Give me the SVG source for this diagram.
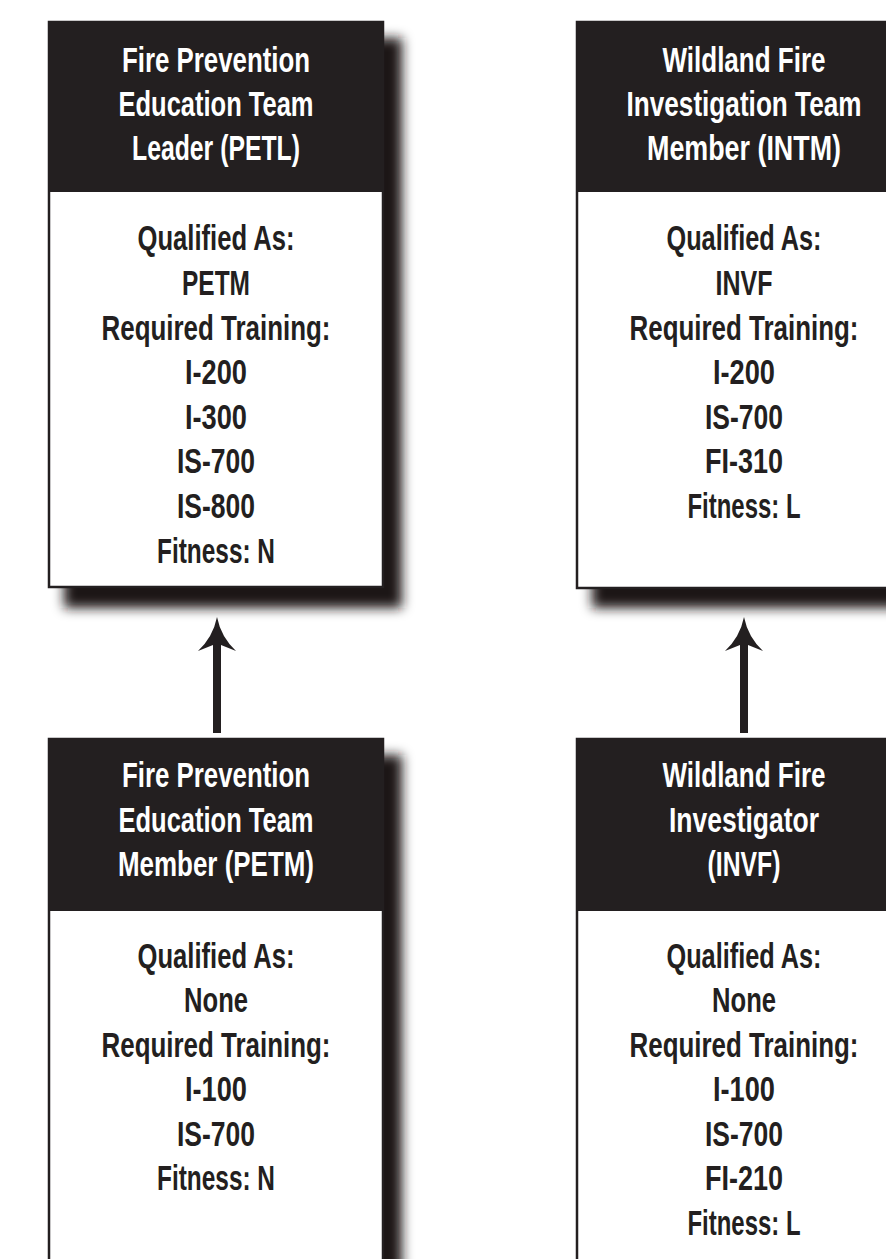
<svg xmlns="http://www.w3.org/2000/svg" width="886" height="1259" viewBox="0 0 886 1259">
<defs>
<filter id="sh" x="-20%" y="-20%" width="140%" height="140%">
<feGaussianBlur stdDeviation="6"/>
</filter>
<style>
.body{fill:#ffffff;stroke:#231f20;stroke-width:2.5}
.head{fill:#231f20}
.shadow{fill:#1a1718;filter:url(#sh)}
text{font-family:"Liberation Sans",Arial,sans-serif;font-weight:bold;font-size:35px;text-anchor:middle}
.ht{fill:#ffffff}
.bt{fill:#231f20}
.arrow{fill:#231f20}
</style>
</defs>
<rect width="886" height="1259" fill="#ffffff"/>

<g id="node-petl">
<rect class="shadow" x="64" y="38" width="338" height="570"/>
<rect class="body" x="49" y="22" width="334" height="565"/>
<rect class="head" x="48" y="21" width="336" height="171"/>
<text class="ht" x="216" y="72" textLength="188" lengthAdjust="spacingAndGlyphs">Fire Prevention</text>
<text class="ht" x="216" y="116" textLength="195" lengthAdjust="spacingAndGlyphs">Education Team</text>
<text class="ht" x="216" y="160" textLength="168" lengthAdjust="spacingAndGlyphs">Leader (PETL)</text>
<text class="bt" x="216" y="250" textLength="157" lengthAdjust="spacingAndGlyphs">Qualified As:</text>
<text class="bt" x="216" y="295" textLength="68" lengthAdjust="spacingAndGlyphs">PETM</text>
<text class="bt" x="216" y="340" textLength="229" lengthAdjust="spacingAndGlyphs">Required Training:</text>
<text class="bt" x="216" y="384" textLength="62" lengthAdjust="spacingAndGlyphs">I-200</text>
<text class="bt" x="216" y="429" textLength="62" lengthAdjust="spacingAndGlyphs">I-300</text>
<text class="bt" x="216" y="473" textLength="78" lengthAdjust="spacingAndGlyphs">IS-700</text>
<text class="bt" x="216" y="518" textLength="78" lengthAdjust="spacingAndGlyphs">IS-800</text>
<text class="bt" x="216" y="563" textLength="118" lengthAdjust="spacingAndGlyphs">Fitness: N</text>
</g>

<g id="node-intm">
<rect class="shadow" x="592" y="38" width="338" height="570"/>
<rect class="body" x="577" y="22" width="334" height="566"/>
<rect class="head" x="576" y="21" width="336" height="171"/>
<text class="ht" x="744" y="72" textLength="163" lengthAdjust="spacingAndGlyphs">Wildland Fire</text>
<text class="ht" x="744" y="116" textLength="235" lengthAdjust="spacingAndGlyphs">Investigation Team</text>
<text class="ht" x="744" y="160" textLength="194" lengthAdjust="spacingAndGlyphs">Member (INTM)</text>
<text class="bt" x="744" y="250" textLength="155" lengthAdjust="spacingAndGlyphs">Qualified As:</text>
<text class="bt" x="744" y="295" textLength="57" lengthAdjust="spacingAndGlyphs">INVF</text>
<text class="bt" x="744" y="340" textLength="229" lengthAdjust="spacingAndGlyphs">Required Training:</text>
<text class="bt" x="744" y="384" textLength="62" lengthAdjust="spacingAndGlyphs">I-200</text>
<text class="bt" x="744" y="429" textLength="78" lengthAdjust="spacingAndGlyphs">IS-700</text>
<text class="bt" x="744" y="473" textLength="78" lengthAdjust="spacingAndGlyphs">FI-310</text>
<text class="bt" x="744" y="518" textLength="113" lengthAdjust="spacingAndGlyphs">Fitness: L</text>
</g>

<g id="node-petm">
<rect class="shadow" x="64" y="755" width="338" height="560"/>
<rect class="body" x="49" y="739" width="334" height="560"/>
<rect class="head" x="48" y="738" width="336" height="173"/>
<text class="ht" x="216" y="787" textLength="188" lengthAdjust="spacingAndGlyphs">Fire Prevention</text>
<text class="ht" x="216" y="832" textLength="195" lengthAdjust="spacingAndGlyphs">Education Team</text>
<text class="ht" x="216" y="876" textLength="196" lengthAdjust="spacingAndGlyphs">Member (PETM)</text>
<text class="bt" x="216" y="968" textLength="157" lengthAdjust="spacingAndGlyphs">Qualified As:</text>
<text class="bt" x="216" y="1012" textLength="64" lengthAdjust="spacingAndGlyphs">None</text>
<text class="bt" x="216" y="1057" textLength="229" lengthAdjust="spacingAndGlyphs">Required Training:</text>
<text class="bt" x="216" y="1101" textLength="62" lengthAdjust="spacingAndGlyphs">I-100</text>
<text class="bt" x="216" y="1146" textLength="78" lengthAdjust="spacingAndGlyphs">IS-700</text>
<text class="bt" x="216" y="1190" textLength="118" lengthAdjust="spacingAndGlyphs">Fitness: N</text>
</g>

<g id="node-invf">
<rect class="shadow" x="592" y="755" width="338" height="560"/>
<rect class="body" x="577" y="739" width="334" height="560"/>
<rect class="head" x="576" y="738" width="336" height="173"/>
<text class="ht" x="744" y="787" textLength="163" lengthAdjust="spacingAndGlyphs">Wildland Fire</text>
<text class="ht" x="744" y="832" textLength="150" lengthAdjust="spacingAndGlyphs">Investigator</text>
<text class="ht" x="744" y="876" textLength="73" lengthAdjust="spacingAndGlyphs">(INVF)</text>
<text class="bt" x="744" y="968" textLength="155" lengthAdjust="spacingAndGlyphs">Qualified As:</text>
<text class="bt" x="744" y="1012" textLength="64" lengthAdjust="spacingAndGlyphs">None</text>
<text class="bt" x="744" y="1057" textLength="229" lengthAdjust="spacingAndGlyphs">Required Training:</text>
<text class="bt" x="744" y="1101" textLength="62" lengthAdjust="spacingAndGlyphs">I-100</text>
<text class="bt" x="744" y="1146" textLength="78" lengthAdjust="spacingAndGlyphs">IS-700</text>
<text class="bt" x="744" y="1190" textLength="78" lengthAdjust="spacingAndGlyphs">FI-210</text>
<text class="bt" x="744" y="1235" textLength="113" lengthAdjust="spacingAndGlyphs">Fitness: L</text>
</g>

<g id="connectors">
<path class="arrow" d="M217,617 Q221,637 236,651 L221,645 L221,733 L213,733 L213,645 L198,651 Q213,637 217,617 Z"/>
<path class="arrow" d="M744,617 Q748,637 763,651 L748,645 L748,733 L740,733 L740,645 L725,651 Q740,637 744,617 Z"/>
</g>
</svg>
